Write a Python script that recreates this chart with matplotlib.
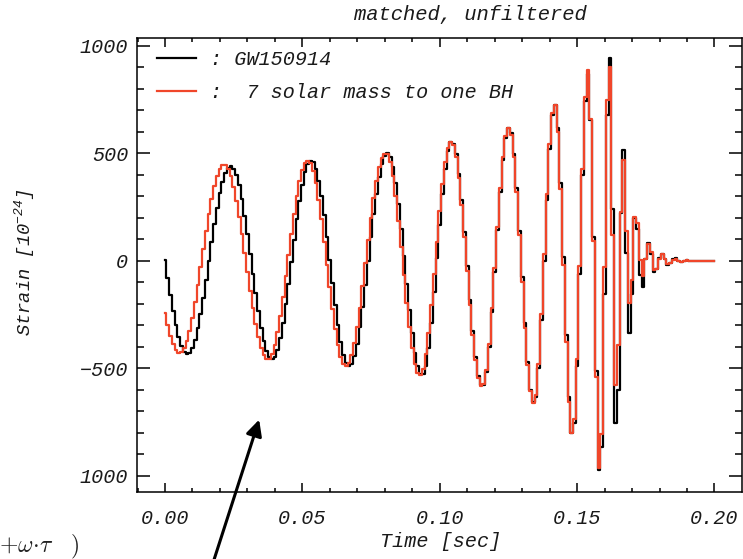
import matplotlib
matplotlib.use("Agg")
import matplotlib.pyplot as plt
import numpy as np
from matplotlib.ticker import FixedLocator, FixedFormatter, MultipleLocator
from matplotlib.patches import FancyArrowPatch

plt.rcParams["font.family"] = ["Liberation Mono", "DejaVu Sans"]
plt.rcParams["font.style"] = "italic"
plt.rcParams["mathtext.fontset"] = "custom"
plt.rcParams["mathtext.rm"] = "Liberation Mono:italic"
plt.rcParams["mathtext.it"] = "Liberation Mono:italic"

# Sampling interval of both traces [s]
sample_step = 0.001

# Measured strain, GW150914 (units of 1e-24)
strain_observed = np.array([
    3, -80, -160, -235, -301, -355, -396, -423, -434, -428,
    -406, -367, -313, -248, -172, -89, -1, 86, 169, 246,
    313, 368, 409, 433, 440, 428, 398, 350, 286, 210,
    125, 33, -60, -151, -236, -312, -373, -420, -448, -458,
    -447, -413, -360, -288, -203, -107, -7, 95, 192, 280,
    354, 411, 449, 465, 457, 426, 372, 300, 211, 110,
    4, -103, -206, -299, -377, -437, -475, -490, -480, -445,
    -387, -310, -216, -112, -1, 110, 216, 311, 390, 450,
    487, 500, 484, 437, 362, 264, 149, 22, -106, -229,
    -338, -427, -491, -526, -529, -488, -405, -288, -146, 11,
    166, 309, 426, 508, 550, 545, 496, 405, 282, 135,
    -24, -183, -329, -449, -536, -580, -578, -516, -400, -240,
    -53, 141, 321, 470, 571, 615, 592, 496, 340, 140,
    -78, -291, -472, -600, -659, -634, -498, -275, 1, 283,
    521, 677, 724, 619, 362, 16, -344, -635, -803, -756,
    -488, -60, 397, 742, 870, 654, 108, -514, -975, -868,
    -154, 676, 941, 240, -756, -601, 223, 515, 34, -334,
    -157, 200, 149, -65, -121, 6, 81, 32, -51, -39,
    13, 33, 7, -19, -12, 7, 11, 1, -6, -2,
    2, 1, 0, 0, 0, 0, 0, 0, 0, 0,
    0,
])

# Model waveform for the merger into one black hole (units of 1e-24)
strain_model = np.array([
    -243, -300, -349, -389, -415, -428, -426, -408, -374, -326,
    -265, -193, -114, -30, 54, 138, 217, 287, 347, 394,
    427, 443, 443, 425, 392, 342, 280, 205, 124, 37,
    -52, -139, -220, -295, -357, -407, -440, -458, -457, -436,
    -394, -333, -257, -169, -72, 27, 126, 219, 302, 371,
    423, 454, 465, 453, 417, 360, 283, 192, 89, -18,
    -124, -225, -316, -391, -446, -480, -490, -476, -440, -382,
    -307, -218, -117, -11, 96, 198, 292, 372, 435, 477,
    498, 494, 459, 392, 300, 187, 62, -68, -195, -310,
    -407, -478, -521, -531, -502, -435, -334, -207, -64, 86,
    229, 356, 457, 524, 552, 539, 482, 386, 259, 110,
    -48, -204, -347, -462, -543, -583, -575, -507, -385, -222,
    -33, 159, 337, 483, 579, 616, 585, 483, 321, 119,
    -100, -311, -487, -608, -662, -626, -480, -248, 31, 309,
    541, 687, 723, 599, 332, -20, -376, -655, -800, -738,
    -456, -26, 425, 762, 887, 661, 93, -539, -965, -808,
    -31, 746, 903, 118, -580, -390, 226, 470, 136, -197,
    -88, 205, 174, 4, -70, 10, 79, 41, -45, -37,
    10, 30, 8, -14, -9, 5, 8, 1, -4, -1,
    2, 1, 0, 0, 0, 0, 0, 0, 0, 0,
    0,
])

time = np.arange(strain_observed.size) * sample_step

x_ticks = [0.00, 0.05, 0.10, 0.15, 0.20]
x_tick_labels = ["0.00", "0.05", "0.10", "0.15", "0.20"]
y_ticks = [-1000, -500, 0, 500, 1000]
y_tick_labels = ["1000", "\u2212500", "0", "500", "1000"]
series_labels = [": GW150914", ":  7 solar mass to one BH"]

W, H = 743, 559
ink = "#1a1a1a"
red = "#f0462a"

fig = plt.figure(figsize=(W / 100, H / 100), dpi=100)
fig.patch.set_facecolor("white")
ax = fig.add_axes([136.7 / W, 1 - 491.7 / H, 605 / W, 454 / H])

l_obs, = ax.plot(time, strain_observed, drawstyle="steps-mid",
                 color="black", lw=1.6)
l_mod, = ax.plot(time, strain_model, drawstyle="steps-mid",
                 color=red, lw=1.6)

ax.set_xlim(-0.0103, 0.2099)
ax.set_ylim(-1074, 1037)

ax.xaxis.set_major_locator(FixedLocator(x_ticks))
ax.xaxis.set_major_formatter(FixedFormatter(x_tick_labels))
ax.xaxis.set_minor_locator(MultipleLocator(0.01))
ax.yaxis.set_major_locator(FixedLocator(y_ticks))
ax.yaxis.set_major_formatter(FixedFormatter(y_tick_labels))
ax.yaxis.set_minor_locator(MultipleLocator(100))

ax.tick_params(axis="x", which="major", direction="in", length=6.5, width=1.1,
               top=True, pad=12.5, labelsize=14.5, labelcolor=ink)
ax.tick_params(axis="x", which="minor", direction="in", length=2.9, width=1.1,
               top=True)
ax.tick_params(axis="y", which="major", direction="in", length=9.4, width=1.1,
               right=True, pad=6.0, labelsize=14.5, labelcolor=ink)
ax.tick_params(axis="y", which="minor", direction="in", length=5, width=1.1,
               right=True)
for sp in ax.spines.values():
    sp.set_linewidth(1.1)

ax.set_xlabel("Time [sec]", fontsize=14.5, color=ink)
ax.xaxis.set_label_coords(0.503, -0.089)
ax.set_ylabel("Strain [10$^{-24}$]", fontsize=13.5, color=ink)
ax.yaxis.set_label_coords(-0.165, 0.505)

fig.text(470 / W, 1 - 15 / H, "matched, unfiltered", fontsize=14.8,
         color=ink, ha="center", va="center")

ax.legend(handles=[l_obs, l_mod], labels=series_labels, loc="upper left",
          bbox_to_anchor=((157 - 136.7) / 605, 1 - (50 - 37.7) / 454),
          frameon=False, borderpad=0, borderaxespad=0, fontsize=14.5,
          handlelength=1.95, handletextpad=0.7, labelspacing=0.7,
          labelcolor=ink)

arrow = FancyArrowPatch(posA=(212 / W, 1 - 566 / H), posB=(260 / W, 1 - 417 / H),
                        transform=fig.transFigure, arrowstyle="-|>",
                        mutation_scale=24, lw=2.2, color="black")
fig.patches.append(arrow)

fig.text(-1 / W, 1 - 552 / H, r"$+\omega\!\cdot\!\tau\quad)$", fontsize=17,
         math_fontfamily="cm", color="#222222", ha="left", va="baseline")

fig.savefig("out.png", dpi=100, facecolor="white")
